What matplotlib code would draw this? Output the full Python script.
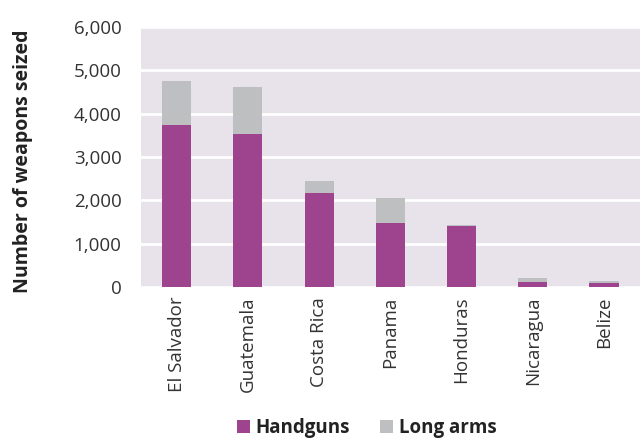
import matplotlib
matplotlib.use("Agg")
import matplotlib.pyplot as plt
from matplotlib.ticker import FuncFormatter

countries = ["El Salvador", "Guatemala", "Costa Rica", "Panama",
             "Honduras", "Nicaragua", "Belize"]
handguns = [3730, 3530, 2170, 1470, 1400, 125, 95]
long_arms = [1030, 1095, 280, 590, 35, 75, 35]

plt.rcParams['font.family'] = ['Open Sans', 'DejaVu Sans']

fig = plt.figure(figsize=(6.41, 4.41), dpi=100)
ax = fig.add_axes([0.22, 0.349, 0.778, 0.59])
ax.set_facecolor('#e8e3eb')

x = range(len(countries))
ax.bar(x, handguns, width=0.41, color='#9e448e', label='Handguns', zorder=3)
ax.bar(x, long_arms, width=0.41, bottom=handguns, color='#bebfc1',
       label='Long arms', zorder=3)

ax.set_ylim(0, 6000)
ax.set_xlim(-0.5, len(countries) - 0.5)
ax.set_yticks(range(0, 6001, 1000))
ax.yaxis.set_major_formatter(FuncFormatter(lambda v, p: f"{int(v):,}"))
ax.grid(axis='y', color='white', linewidth=2, zorder=0)
ax.set_axisbelow(True)
for s in ax.spines.values():
    s.set_visible(False)
ax.tick_params(axis='both', length=0, labelsize=13.5, colors='#333333')
ax.tick_params(axis='y', pad=14)
ax.tick_params(axis='x', pad=7)
ax.set_xticks(list(x))
ax.set_xticklabels(countries, rotation=90)
ax.set_ylabel("Number of weapons seized", fontsize=14, fontweight='bold',
              color='#222222')
ax.yaxis.set_label_coords(-0.216, 0.485)

leg = fig.legend(loc='lower center', bbox_to_anchor=(0.572, -0.032), ncol=2,
                 frameon=False, handlelength=0.7, handleheight=0.7,
                 handletextpad=0.3, columnspacing=1.6,
                 prop={'weight': 'bold', 'size': 13.5})
for t in leg.get_texts():
    t.set_color('#222222')

fig.savefig("out.png", dpi=100)
